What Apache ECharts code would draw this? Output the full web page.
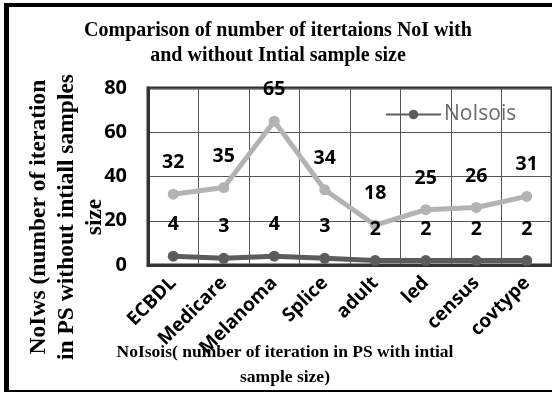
<!DOCTYPE html>
<html>
<head>
<meta charset="utf-8">
<script src="https://cdn.jsdelivr.net/npm/echarts@6/dist/echarts.min.js"></script>
<style>
  html, body { margin: 0; padding: 0; background: #fff; }
  #chart { width: 552px; height: 393px; }
</style>
</head>
<body>
<div id="chart"></div>
<script>
// Datasets on the category axis
const categories = ['ECBDL', 'Medicare', 'Melanoma', 'Splice', 'adult', 'led', 'census', 'covtype'];
// Iterations without initial sample size
const noIws = [32, 35, 65, 34, 18, 25, 26, 31];
// Iterations with initial sample size
const noIsois = [4, 3, 4, 3, 2, 2, 2, 2];
// Value axis ticks
const yTicks = [0, 20, 40, 60, 80];

const serif = '"Liberation Serif", "Times New Roman", serif';
const sans = '"Open Sans", Lato, sans-serif';

const chart = echarts.init(document.getElementById('chart'), null, { renderer: 'canvas' });

const labelStyle = {
  show: true,
  position: 'top',
  distance: 16,
  color: '#000',
  fontFamily: sans,
  fontWeight: 'bold',
  fontSize: 19.5
};

chart.setOption({
  animation: false,
  backgroundColor: '#fff',
  title: {
    text: 'Comparison of number of itertaions NoI with\nand without Intial sample size',
    left: 273,
    top: 13,
    textAlign: 'center',
    textStyle: {
      fontFamily: serif,
      fontWeight: 'bold',
      fontSize: 20,
      lineHeight: 25,
      color: '#000'
    }
  },
  legend: {
    data: ['NoIsois'],
    left: 385,
    top: 104,
    padding: 0,
    itemWidth: 55,
    itemHeight: 12,
    itemGap: 0,
    textStyle: { fontFamily: sans, fontSize: 21, color: '#6a6a6a', padding: [0, 0, 0, -2] }
  },
  grid: {
    left: 148,
    right: 0,
    top: 88,
    bottom: 128,
    show: true,
    borderColor: '#333',
    borderWidth: 3
  },
  xAxis: {
    type: 'category',
    data: categories,
    boundaryGap: true,
    axisLine: { lineStyle: { color: '#333', width: 3 } },
    axisTick: { show: false },
    splitLine: { show: true, lineStyle: { color: '#555', width: 1 } },
    axisLabel: {
      rotate: 45,
      margin: 15,
      interval: 0,
      color: '#000',
      fontFamily: sans,
      fontWeight: 'bold',
      fontSize: 19
    }
  },
  yAxis: {
    type: 'value',
    min: yTicks[0],
    max: yTicks[yTicks.length - 1],
    interval: yTicks[1] - yTicks[0],
    axisLine: { show: true, lineStyle: { color: '#333', width: 3 } },
    axisTick: { show: false },
    splitLine: { show: true, lineStyle: { color: '#555', width: 1 } },
    axisLabel: {
      margin: 21,
      color: '#000',
      fontFamily: sans,
      fontWeight: 'bold',
      fontSize: 20
    }
  },
  series: [
    {
      name: 'NoIws',
      type: 'line',
      data: noIws,
      symbol: 'circle',
      symbolSize: 11,
      lineStyle: { color: '#b3b3b3', width: 5 },
      itemStyle: { color: '#b3b3b3' },
      label: labelStyle,
      z: 3
    },
    {
      name: 'NoIsois',
      type: 'line',
      data: noIsois,
      symbol: 'circle',
      symbolSize: 11,
      lineStyle: { color: '#5c5c5c', width: 5 },
      itemStyle: { color: '#5c5c5c' },
      label: labelStyle,
      z: 4
    }
  ],
  graphic: [
    // frame around the figure
    { type: 'rect', shape: { x: 4, y: 3, width: 548, height: 4 }, style: { fill: '#000' } },
    { type: 'rect', shape: { x: 4, y: 3, width: 5, height: 389 }, style: { fill: '#000' } },
    { type: 'rect', shape: { x: 4, y: 390, width: 548, height: 2 }, style: { fill: '#000' } },
    // value axis title
    {
      type: 'text',
      x: 67,
      y: 217,
      rotation: Math.PI / 2,
      style: {
        text: 'NoIws (number of iteration\nin PS without intiall samples\nsize',
        fontFamily: serif,
        fontWeight: 'bold',
        fontSize: 23.5,
        lineHeight: 28,
        fill: '#000',
        align: 'center',
        verticalAlign: 'middle'
      },
      z: 1
    },
    // category axis title
    {
      type: 'text',
      x: 285,
      y: 365,
      style: {
        text: 'NoIsois( number of iteration in PS with intial\nsample size)',
        fontFamily: serif,
        fontWeight: 'bold',
        fontSize: 17.5,
        lineHeight: 25,
        fill: '#000',
        align: 'center',
        verticalAlign: 'middle'
      },
      z: 1
    }
  ]
});
</script>
</body>
</html>
